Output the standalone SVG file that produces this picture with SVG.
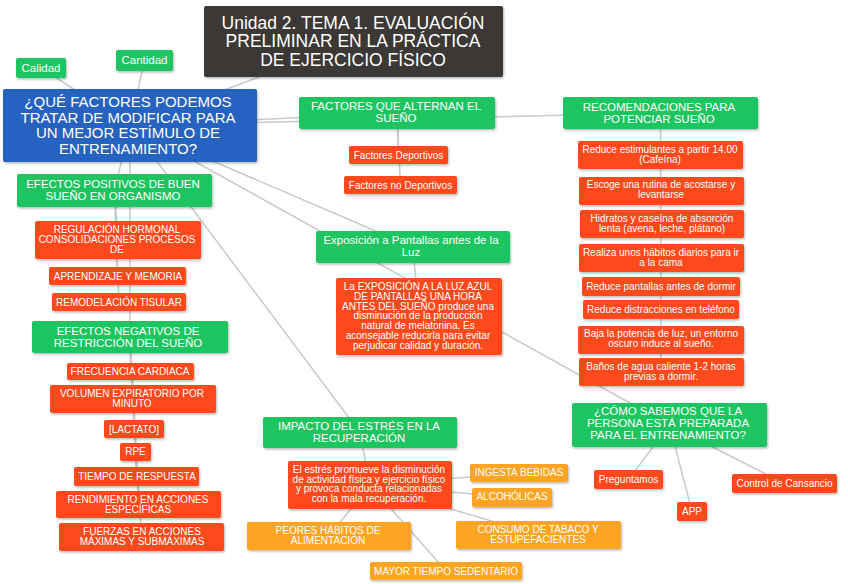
<svg xmlns="http://www.w3.org/2000/svg" width="848" height="584" viewBox="0 0 848 584">
<defs>
<filter id="sh" x="-10%" y="-20%" width="120%" height="150%">
<feDropShadow dx="1" dy="1.5" stdDeviation="0.8" flood-color="#000" flood-opacity="0.28"/>
</filter>
<style>
.c line{stroke:#c9c9c9;stroke-width:1.5;fill:none}
rect{filter:url(#sh)}
.dark rect{fill:#3b3735}
.blue rect{fill:#2762c0}
.g rect{fill:#1fc55e}
.r rect{fill:#fd4a1c}
.a rect{fill:#fda421}
text{font-family:"Liberation Sans",Arial,sans-serif;fill:#fff;text-anchor:middle}
.t18{font-size:17.5px}
.t15{font-size:15px}
.t12{font-size:11.5px}
.t10{font-size:10px}
</style>
</defs>
<rect x="0" y="0" width="848" height="584" fill="#fff" style="filter:none"/>
<g id="connectors" class="c">
<line x1="130" y1="125.5" x2="353.5" y2="41.5"/>
<line x1="130" y1="125.5" x2="41" y2="68"/>
<line x1="130" y1="125.5" x2="144.5" y2="60.5"/>
<line x1="130" y1="125.5" x2="397" y2="113"/>
<line x1="130" y1="125.5" x2="660.5" y2="113"/>
<line x1="130" y1="125.5" x2="114.5" y2="190.5"/>
<line x1="130" y1="125.5" x2="130" y2="337"/>
<line x1="130" y1="125.5" x2="413" y2="247"/>
<line x1="130" y1="125.5" x2="669.5" y2="425"/>
<line x1="130" y1="125.5" x2="360" y2="432.5"/>
<line x1="397" y1="113" x2="398.5" y2="155"/>
<line x1="397" y1="113" x2="400.5" y2="185"/>
<line x1="660.5" y1="113" x2="661" y2="372"/>
<line x1="114.5" y1="190.5" x2="118" y2="240"/>
<line x1="114.5" y1="190.5" x2="117.5" y2="276"/>
<line x1="114.5" y1="190.5" x2="119" y2="302"/>
<line x1="130" y1="337" x2="130.5" y2="371.5"/>
<line x1="130" y1="337" x2="133" y2="399"/>
<line x1="130" y1="337" x2="134" y2="429"/>
<line x1="130" y1="337" x2="135.5" y2="452"/>
<line x1="130" y1="337" x2="136.5" y2="476.5"/>
<line x1="130" y1="337" x2="138.5" y2="504.5"/>
<line x1="130" y1="337" x2="141.5" y2="537"/>
<line x1="413" y1="247" x2="419" y2="316.5"/>
<line x1="360" y1="432.5" x2="370" y2="485"/>
<line x1="370" y1="485" x2="519" y2="473"/>
<line x1="370" y1="485" x2="512" y2="497.5"/>
<line x1="370" y1="485" x2="329" y2="536"/>
<line x1="370" y1="485" x2="446" y2="571"/>
<line x1="370" y1="485" x2="538.5" y2="535"/>
<line x1="669.5" y1="425" x2="628.5" y2="479.5"/>
<line x1="669.5" y1="425" x2="692" y2="511.5"/>
<line x1="669.5" y1="425" x2="784.5" y2="483.5"/>
</g>

<g id="title" class="dark"><rect x="204" y="6" width="299" height="71" rx="2"/>
<text class="t18" x="353" y="28.5">Unidad 2. TEMA 1. EVALUACIÓN</text>
<text class="t18" x="353" y="47">PRELIMINAR EN LA PRÁCTICA</text>
<text class="t18" x="353" y="65.5">DE EJERCICIO FÍSICO</text></g>

<g id="pregunta" class="blue"><rect x="3" y="89" width="254" height="73" rx="2"/>
<text class="t15" x="128" y="107">¿QUÉ FACTORES PODEMOS</text>
<text class="t15" x="128" y="122.5">TRATAR DE MODIFICAR PARA</text>
<text class="t15" x="128" y="138">UN MEJOR ESTÍMULO DE</text>
<text class="t15" x="128" y="153.5">ENTRENAMIENTO?</text></g>

<g id="calidad" class="g"><rect x="16" y="58" width="50" height="20" rx="2"/>
<text class="t12" x="41" y="72">Calidad</text></g>
<g id="cantidad" class="g"><rect x="116" y="50" width="57" height="21" rx="2"/>
<text class="t12" x="144.5" y="64">Cantidad</text></g>

<g id="factores" class="g"><rect x="299" y="97" width="196" height="32" rx="2"/>
<text class="t12" x="396" y="109.5">FACTORES QUE ALTERNAN EL</text>
<text class="t12" x="396" y="121.5">SUEÑO</text></g>
<g id="fdep" class="r"><rect x="349" y="146" width="99" height="18" rx="2"/>
<text class="t10" x="398.5" y="158.5">Factores Deportivos</text></g>
<g id="fnodep" class="r"><rect x="344" y="176" width="113" height="18" rx="2"/>
<text class="t10" x="400.5" y="188.5">Factores no Deportivos</text></g>

<g id="recomend" class="g"><rect x="563" y="97" width="195" height="32" rx="2"/>
<text class="t12" x="659" y="110.5">RECOMENDACIONES PARA</text>
<text class="t12" x="659" y="122.5">POTENCIAR SUEÑO</text></g>
<g id="rec1" class="r"><rect x="578" y="141" width="165" height="28" rx="2"/>
<text class="t10" x="660" y="153">Reduce estimulantes a partir 14.00</text>
<text class="t10" x="660" y="163">(Cafeína)</text></g>
<g id="rec2" class="r"><rect x="579" y="177" width="165" height="28" rx="2"/>
<text class="t10" x="661" y="188">Escoge una rutina de acostarse y</text>
<text class="t10" x="661" y="198">levantarse</text></g>
<g id="rec3" class="r"><rect x="580" y="210" width="164" height="28" rx="2"/>
<text class="t10" x="662" y="222">Hidratos y caseína de absorción</text>
<text class="t10" x="662" y="232">lenta (avena, leche, plátano)</text></g>
<g id="rec4" class="r"><rect x="579" y="244" width="165" height="28" rx="2"/>
<text class="t10" x="661" y="256">Realiza unos hábitos diarios para ir</text>
<text class="t10" x="661" y="266">a la cama</text></g>
<g id="rec5" class="r"><rect x="582" y="277" width="158" height="19" rx="2"/>
<text class="t10" x="661" y="290">Reduce pantallas antes de dormir</text></g>
<g id="rec6" class="r"><rect x="583" y="300" width="156" height="19" rx="2"/>
<text class="t10" x="661" y="313">Reduce distracciones en teléfono</text></g>
<g id="rec7" class="r"><rect x="578" y="326" width="166" height="28" rx="2"/>
<text class="t10" x="661" y="337">Baja la potencia de luz, un entorno</text>
<text class="t10" x="661" y="347">oscuro induce al sueño.</text></g>
<g id="rec8" class="r"><rect x="579" y="358" width="165" height="28" rx="2"/>
<text class="t10" x="661" y="370">Baños de agua caliente 1-2 horas</text>
<text class="t10" x="661" y="380">previas a dormir.</text></g>

<g id="positivos" class="g"><rect x="17" y="174" width="195" height="33" rx="2"/>
<text class="t12" x="113" y="188">EFECTOS POSITIVOS DE BUEN</text>
<text class="t12" x="113" y="200">SUEÑO EN ORGANISMO</text></g>
<g id="pos1" class="r"><rect x="35" y="221" width="166" height="38" rx="2"/>
<text class="t10" x="117" y="233">REGULACIÓN HORMONAL</text>
<text class="t10" x="117" y="243">CONSOLIDACIONES PROCESOS</text>
<text class="t10" x="117" y="253">DE</text></g>
<g id="pos2" class="r"><rect x="49" y="267" width="137" height="18" rx="2"/>
<text class="t10" x="118" y="279.5">APRENDIZAJE Y MEMORIA</text></g>
<g id="pos3" class="r"><rect x="52" y="293" width="134" height="18" rx="2"/>
<text class="t10" x="119" y="305.5">REMODELACIÓN TISULAR</text></g>

<g id="negativos" class="g"><rect x="32" y="321" width="196" height="32" rx="2"/>
<text class="t12" x="128" y="335">EFECTOS NEGATIVOS DE</text>
<text class="t12" x="128" y="347">RESTRICCIÓN DEL SUEÑO</text></g>
<g id="neg1" class="r"><rect x="67" y="363" width="127" height="17" rx="2"/>
<text class="t10" x="130" y="375">FRECUENCIA CARDIACA</text></g>
<g id="neg2" class="r"><rect x="50" y="385" width="166" height="28" rx="2"/>
<text class="t10" x="132" y="397">VOLUMEN EXPIRATORIO POR</text>
<text class="t10" x="132" y="407">MINUTO</text></g>
<g id="neg3" class="r"><rect x="104" y="420" width="60" height="18" rx="2"/>
<text class="t10" x="134" y="432.5">[LACTATO]</text></g>
<g id="neg4" class="r"><rect x="120" y="443" width="31" height="18" rx="2"/>
<text class="t10" x="135.5" y="455">RPE</text></g>
<g id="neg5" class="r"><rect x="74" y="467" width="125" height="19" rx="2"/>
<text class="t10" x="137" y="480">TIEMPO DE RESPUESTA</text></g>
<g id="neg6" class="r"><rect x="56" y="491" width="165" height="27" rx="2"/>
<text class="t10" x="138" y="502.5">RENDIMIENTO EN ACCIONES</text>
<text class="t10" x="138" y="512.5">ESPECÍFICAS</text></g>
<g id="neg7" class="r"><rect x="59" y="523" width="165" height="28" rx="2"/>
<text class="t10" x="142" y="534.5">FUERZAS EN ACCIONES</text>
<text class="t10" x="142" y="544.5">MÁXIMAS Y SUBMÁXIMAS</text></g>

<g id="exposicion" class="g"><rect x="316" y="231" width="194" height="32" rx="2"/>
<text class="t12" x="411" y="244">Exposición a Pantallas antes de la</text>
<text class="t12" x="411" y="256">Luz</text></g>
<g id="luzazul" class="r"><rect x="336" y="278" width="166" height="77" rx="2"/>
<text class="t10" x="418" y="290">La EXPOSICIÓN A LA LUZ AZUL</text>
<text class="t10" x="418" y="300">DE PANTALLAS UNA HORA</text>
<text class="t10" x="418" y="309.5">ANTES DEL SUEÑO produce una</text>
<text class="t10" x="418" y="319">disminución de la producción</text>
<text class="t10" x="418" y="329">natural de melatonina. Es</text>
<text class="t10" x="418" y="339">aconsejable reducirla para evitar</text>
<text class="t10" x="418" y="348.5">perjudicar calidad y duración.</text></g>

<g id="impacto" class="g"><rect x="263" y="417" width="194" height="31" rx="2"/>
<text class="t12" x="359" y="430">IMPACTO DEL ESTRÉS EN LA</text>
<text class="t12" x="359" y="442">RECUPERACIÓN</text></g>
<g id="estres" class="r"><rect x="288" y="461" width="164" height="48" rx="2"/>
<text class="t10" x="369" y="473">El estrés promueve la disminución</text>
<text class="t10" x="369" y="482.5">de actividad física y ejercicio físico</text>
<text class="t10" x="369" y="492">y provoca conducta relacionadas</text>
<text class="t10" x="369" y="502">con la mala recuperación.</text></g>
<g id="ingesta" class="a"><rect x="470" y="464" width="98" height="18" rx="2"/>
<text class="t10" x="519" y="476">INGESTA BEBIDAS</text></g>
<g id="alcoholicas" class="a"><rect x="472" y="488" width="80" height="19" rx="2"/>
<text class="t10" x="512" y="500">ALCOHÓLICAS</text></g>
<g id="peores" class="a"><rect x="247" y="522" width="164" height="28" rx="2"/>
<text class="t10" x="328" y="533.5">PEORES HÁBITOS DE</text>
<text class="t10" x="328" y="543.5">ALIMENTACIÓN</text></g>
<g id="mayor" class="a"><rect x="370" y="562" width="152" height="18" rx="2"/>
<text class="t10" x="446" y="574.5">MAYOR TIEMPO SEDENTARIO</text></g>
<g id="consumo" class="a"><rect x="456" y="521" width="165" height="28" rx="2"/>
<text class="t10" x="538" y="533">CONSUMO DE TABACO Y</text>
<text class="t10" x="538" y="542.5">ESTUPEFACIENTES</text></g>

<g id="como" class="g"><rect x="572" y="403" width="195" height="44" rx="2"/>
<text class="t12" x="668" y="415">¿CÓMO SABEMOS QUE LA</text>
<text class="t12" x="668" y="427">PERSONA ESTÁ PREPARADA</text>
<text class="t12" x="668" y="439">PARA EL ENTRENAMIENTO?</text></g>
<g id="preguntamos" class="r"><rect x="594" y="470" width="69" height="19" rx="2"/>
<text class="t10" x="628.5" y="483">Preguntamos</text></g>
<g id="app" class="r"><rect x="677" y="502" width="30" height="19" rx="2"/>
<text class="t10" x="692" y="515">APP</text></g>
<g id="control" class="r"><rect x="732" y="474" width="105" height="19" rx="2"/>
<text class="t10" x="784.5" y="487">Control de Cansancio</text></g>
</svg>
